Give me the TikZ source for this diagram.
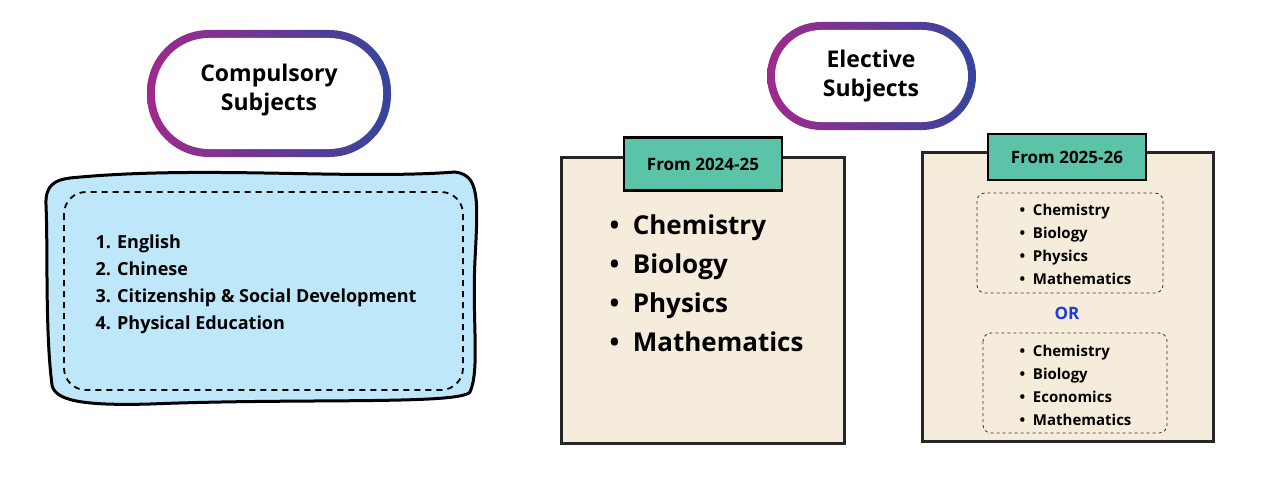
\documentclass[tikz,border=0pt]{standalone}
\usepackage{fontspec}
\setmainfont{Open Sans}
\begin{document}
\begin{tikzpicture}[x=1pt,y=-1pt,
  pilltxt/.style={font=\fontsize{23}{29}\selectfont\bfseries,align=center},
  tab/.style={draw=black,line width=2.5pt,fill=tealc,font=\fontsize{17}{20}\selectfont\bfseries},
  card/.style={draw=black!85,line width=3pt,fill=cream},
  opt/.style={draw=black!80,dashed,line width=0.8pt,rounded corners=8pt},
  small/.style={font=\fontsize{15}{23}\selectfont\bfseries,align=left,anchor=west},
  big/.style={font=\fontsize{26}{39}\selectfont\bfseries,align=left,anchor=west}]
\definecolor{tealc}{HTML}{5BC4A8}
\definecolor{cream}{HTML}{F5ECDB}
\definecolor{lblue}{HTML}{BEE7FA}
\definecolor{gp}{HTML}{A02A8C}
\definecolor{go}{HTML}{EE4A22}
\definecolor{gb}{HTML}{35459E}
\definecolor{orc}{HTML}{1A3FE0}
\useasboundingbox (0,0) rectangle (1280,487);
% pills
\shade[rounded corners=62pt,left color=gp,middle color=go,right color=gb] (147,30) rectangle (391,157);
\fill[white,rounded corners=54pt] (155,38) rectangle (383,149);
\node[pilltxt] (comp) at (269,90) {Compulsory\\Subjects};
\shade[rounded corners=54pt,left color=gp,middle color=go,right color=gb] (767,22) rectangle (976,130);
\fill[white,rounded corners=46pt] (775,30) rectangle (968,122);
\node[pilltxt] (elec) at (871,76) {Elective\\Subjects};
% blue box
\draw[line width=3pt,fill=lblue] (70,178) .. controls (200,165) and (350,180) .. (455,172)
  .. controls (480,175) and (478,200) .. (475,260) .. controls (472,320) and (480,370) .. (470,392)
  .. controls (460,405) and (300,398) .. (150,404) .. controls (80,406) and (55,400) .. (52,385)
  .. controls (45,330) and (48,250) .. (46,205) .. controls (45,185) and (55,180) .. (70,178) -- cycle;
\draw[line width=1.8pt,dash pattern=on 6pt off 5pt,rounded corners=22pt] (64,192) rectangle (463,390);
\node[font=\fontsize{18}{27}\selectfont\bfseries,align=left,anchor=north west] (clist) at (92,231)
 {1. English\\2. Chinese\\3. Citizenship \& Social Development\\4. Physical Education};
% card 1
\draw[card] (561,157) rectangle (844,443);
\node[tab,minimum width=158pt,minimum height=53pt] (t1) at (703,164) {From 2024-25};
\node[big] (l1) at (606,283) {\textbullet\ \ Chemistry\\\textbullet\ \ Biology\\\textbullet\ \ Physics\\\textbullet\ \ Mathematics};
% card 2
\draw[card] (922,152) rectangle (1213,441);
\node[tab,minimum width=158pt,minimum height=46pt] (t2) at (1067,157) {From 2025-26};
\draw[opt] (977,193) rectangle (1163,293);
\node[small] (o1) at (1016,244) {\textbullet\ \ Chemistry\\\textbullet\ \ Biology\\\textbullet\ \ Physics\\\textbullet\ \ Mathematics};
\node[font=\fontsize{17}{20}\selectfont\bfseries,text=orc] (or) at (1067,313) {OR};
\draw[opt] (983,333) rectangle (1167,433);
\node[small] (o2) at (1016,385) {\textbullet\ \ Chemistry\\\textbullet\ \ Biology\\\textbullet\ \ Economics\\\textbullet\ \ Mathematics};
\end{tikzpicture}
\end{document}
